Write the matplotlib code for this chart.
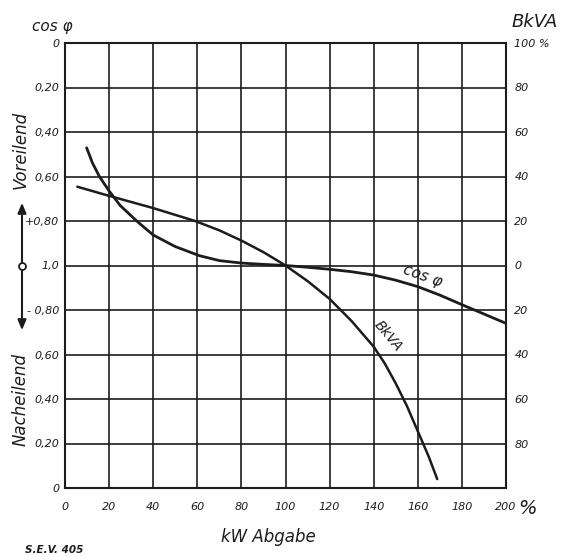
import matplotlib
matplotlib.use("Agg")
import matplotlib.pyplot as plt
from matplotlib.patches import FancyArrowPatch

# ---- data (x = kW Abgabe in %, y = position on the BkVA % scale, 1,0 = 0) ----
x_ticks = [0, 20, 40, 60, 80, 100, 120, 140, 160, 180, 200]
x_tick_labels = ["0", "20", "40", "60", "80", "100", "120", "140", "160", "180", "200"]
y_ticks = [-100, -80, -60, -40, -20, 0, 20, 40, 60, 80, 100]
left_labels = ["0", "0,20", "0,40", "0,60", "- 0,80", "1,0", "+0,80", "0,60", "0,40", "0,20", "0"]
right_labels = ["", "80", "60", "40", "20", "0", "20", "40", "60", "80", "100 %"]

bkva_x = [5.6, 20, 40, 59, 70, 80, 90, 100, 110, 120, 130, 140, 145, 150, 155, 160, 165, 168.8]
bkva_y = [35.4, 31.3, 25.8, 20.0, 15.8, 11.2, 6.0, 0, -7, -15, -25, -36.5, -44, -53, -63, -74.5, -86, -96]

cos_x = [9.8, 12.5, 15.6, 20, 25, 32.5, 40, 50, 61, 70, 80, 90, 100,
         110, 120, 130, 140, 150, 160, 170, 180, 190, 200]
cos_y = [52.9, 46, 40, 33.5, 27, 20, 13.7, 8.5, 4.4, 2.2, 1.1, 0.5, 0,
         -0.8, -1.7, -2.8, -4.3, -6.6, -9.5, -13.3, -17.6, -21.8, -26]

ink = "#1c1c1c"
fig = plt.figure(figsize=(5.76, 5.57), dpi=100)
ax = fig.add_axes([65/576, 1-488/557, (506-65)/576, (488-43)/557])
ax.set_xlim(0, 200)
ax.set_ylim(-100, 100)

ax.set_xticks(x_ticks)
ax.set_xticklabels(x_tick_labels)
ax.set_yticks(y_ticks)
ax.set_yticklabels(left_labels)
ax.grid(True, color=ink, linewidth=1.2)
for s in ax.spines.values():
    s.set_color(ink)
    s.set_linewidth(1.5)
ax.tick_params(length=0, labelsize=8, colors=ink)
ax.tick_params(axis="y", pad=4)
ax.tick_params(axis="x", pad=10)
for t in ax.get_xticklabels() + ax.get_yticklabels():
    t.set_fontstyle("italic")

ax2 = ax.twinx()
ax2.set_ylim(-100, 100)
ax2.set_yticks(y_ticks)
ax2.set_yticklabels(right_labels)
ax2.tick_params(length=0, labelsize=8, pad=6, colors=ink)
for t in ax2.get_yticklabels():
    t.set_fontstyle("italic")
for s in ax2.spines.values():
    s.set_visible(False)

ax.plot(bkva_x, bkva_y, color=ink, linewidth=1.8, solid_capstyle="round", solid_joinstyle="round")
ax.plot(cos_x, cos_y, color=ink, linewidth=2.0, solid_capstyle="round", solid_joinstyle="round")

ax.text(162.4, -4.7, "cos φ", rotation=-20, fontsize=11, style="italic",
        ha="center", va="center", color=ink)
ax.text(146.5, -31.5, "BkVA", rotation=-50, fontsize=10, style="italic",
        ha="center", va="center", color=ink)

# figure texts
fig.text(52/576, 1-27/557, "cos φ", fontsize=11, style="italic", ha="center", va="center", color=ink)
fig.text(535/576, 1-22/557, "BkVA", fontsize=13, style="italic", ha="center", va="center", color=ink)
fig.text(527/576, 1-509/557, "%", fontsize=14, style="italic", ha="center", va="center", color=ink)
fig.text(268/576, 1-537/557, "kW Abgabe", fontsize=12, style="italic", ha="center", va="center", color=ink)
fig.text(25/576, 1-550/557, "S.E.V. 405", fontsize=7.5, style="italic", fontweight="bold",
         ha="left", va="center", color=ink)
fig.text(21/576, 1-150/557, "Voreilend", fontsize=12, style="italic", rotation=90,
         ha="center", va="center", color=ink)
fig.text(21/576, 1-399/557, "Nacheilend", fontsize=12, style="italic", rotation=90,
         ha="center", va="center", color=ink)

arr = FancyArrowPatch((22/576, 1-333/557), (22/576, 1-200/557), transform=fig.transFigure,
                      arrowstyle="<|-|>,head_length=6,head_width=2.5", color=ink, linewidth=1.5)
fig.patches.append(arr)
fig.add_artist(plt.Line2D([22/576], [1-266/557], marker="o", markersize=5, markerfacecolor="white",
                          markeredgecolor=ink, markeredgewidth=1.3, transform=fig.transFigure))

fig.savefig("out.png", dpi=100, facecolor="white")
